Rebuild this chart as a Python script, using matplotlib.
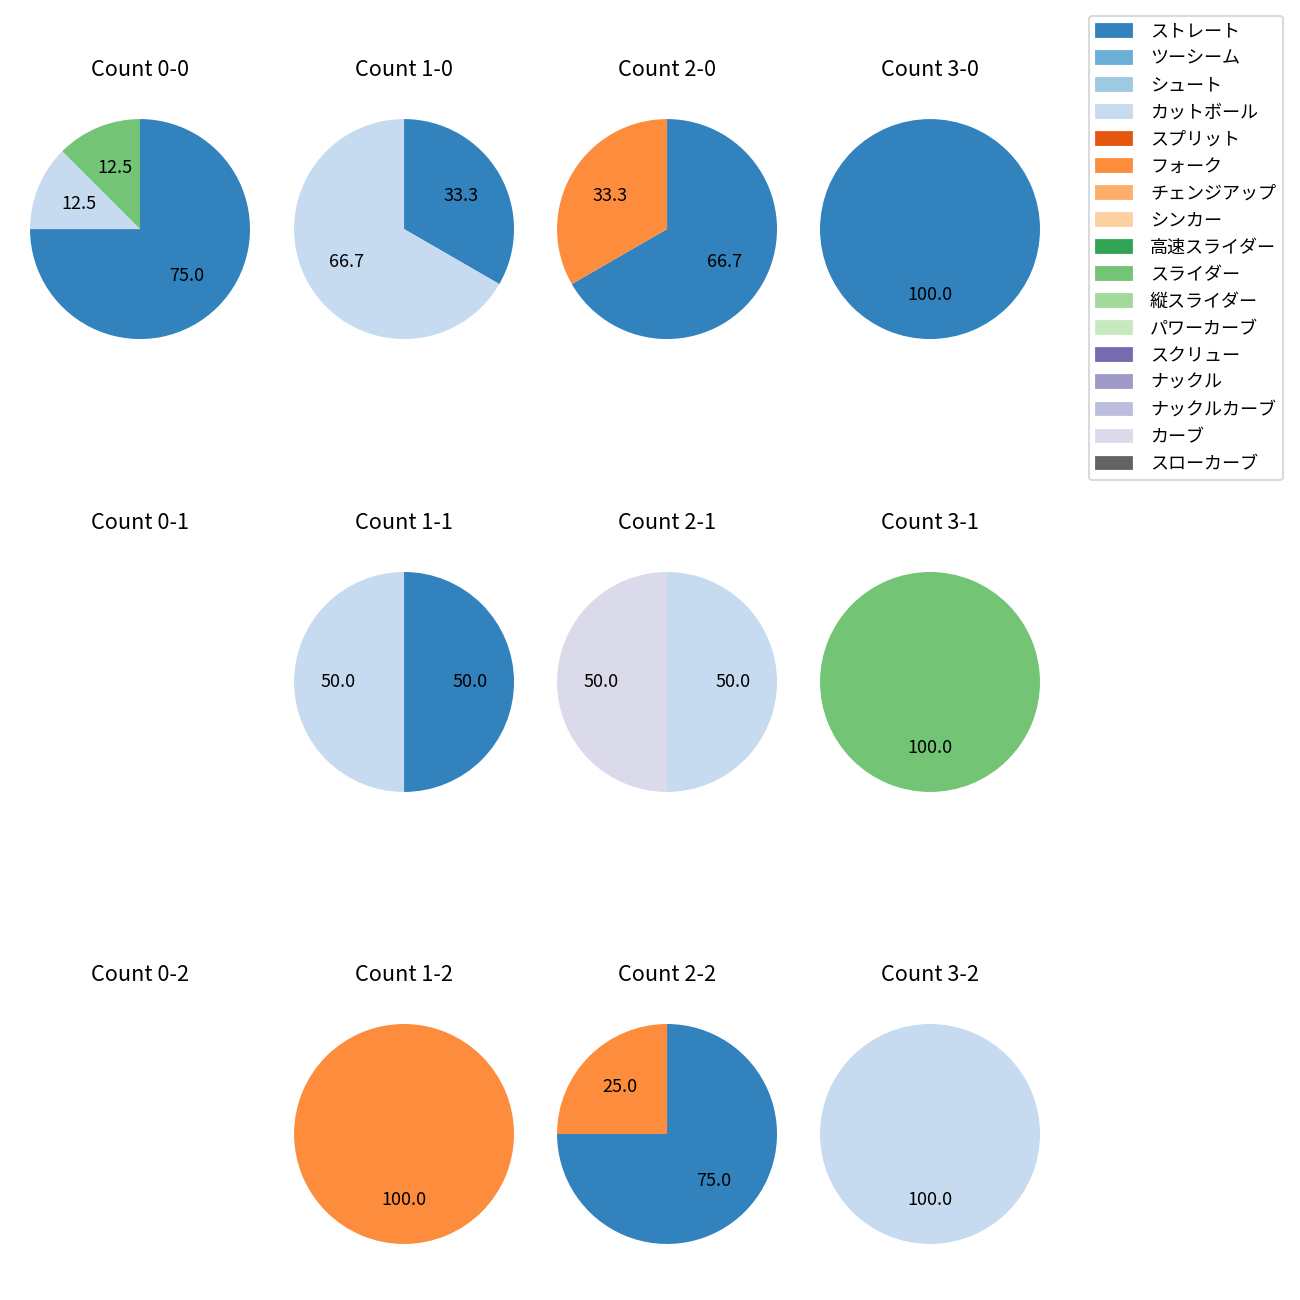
import numpy as np
import matplotlib.pyplot as plt
from matplotlib.patches import Patch

plt.rcParams['font.family'] = ['Noto Sans CJK JP', 'DejaVu Sans']

pitch_types = ['ストレート', 'ツーシーム', 'シュート', 'カットボール', 'スプリット', 'フォーク',
               'チェンジアップ', 'シンカー', '高速スライダー', 'スライダー', '縦スライダー',
               'パワーカーブ', 'スクリュー', 'ナックル', 'ナックルカーブ', 'カーブ', 'スローカーブ']

balls = [0, 1, 2, 3]
strikes = [0, 1, 2]

# pitch counts per ball-strike count
pitch_counts = {
    (0, 0): {'ストレート': 6, 'カットボール': 1, 'スライダー': 1},
    (1, 0): {'ストレート': 1, 'カットボール': 2},
    (2, 0): {'ストレート': 2, 'フォーク': 1},
    (3, 0): {'ストレート': 1},
    (0, 1): {},
    (1, 1): {'ストレート': 1, 'カットボール': 1},
    (2, 1): {'カットボール': 1, 'カーブ': 1},
    (3, 1): {'スライダー': 1},
    (0, 2): {},
    (1, 2): {'フォーク': 1},
    (2, 2): {'ストレート': 3, 'フォーク': 1},
    (3, 2): {'カットボール': 1},
}

cmap = plt.get_cmap('tab20c')
colors = {p: cmap(i) for i, p in enumerate(pitch_types)}

fig = plt.figure(figsize=(10, 10), dpi=130)

side = 0.2115
col_cx = [0.1077, 0.3108, 0.5131, 0.7154]
row_cy = [0.8238, 0.4754, 0.1277]

for r, s in enumerate(strikes):
    for c, b in enumerate(balls):
        ax = fig.add_axes([col_cx[c] - side / 2, row_cy[r] - side / 2, side, side])
        data = pitch_counts[(b, s)]
        names = [p for p in pitch_types if data.get(p, 0) > 0]
        vals = [data[p] for p in names]
        if vals:
            ax.pie(vals, colors=[colors[p] for p in names], autopct='%.1f',
                   startangle=90, counterclock=False)
        else:
            ax.axis('off')
        ax.set_aspect('equal')
        ax.set_title(f'Count {b}-{s}', pad=8.5)

handles = [Patch(color=colors[p], label=p) for p in pitch_types]
fig.legend(handles=handles, loc='upper right', bbox_to_anchor=(0.994, 0.995),
           handletextpad=1.0)

fig.savefig('out.png', dpi=130)
